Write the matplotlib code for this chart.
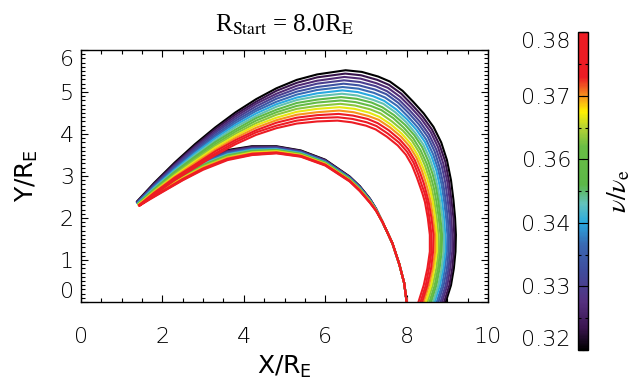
import matplotlib
matplotlib.use('Agg')
import matplotlib.pyplot as plt
from matplotlib.colors import LinearSegmentedColormap, Normalize
from matplotlib.cm import ScalarMappable
from matplotlib.ticker import FixedLocator, MultipleLocator

plt.rcParams['font.family'] = ['DejaVu Sans']
plt.rcParams['font.weight'] = 'light'
plt.rcParams['mathtext.fontset'] = 'custom'
plt.rcParams['mathtext.rm'] = 'DejaVu Sans:light'

# ---------------------------------------------------------------------------
# Data: one ray per frequency nu/nu_e (black -> red).
# Every ray leaves R = 8 R_E, runs up the inner arc to a turning point near
# x ~ 1.4 and comes back along the outer arc.
# ---------------------------------------------------------------------------
nu = [0.320, 0.324, 0.328, 0.332, 0.336, 0.340, 0.344, 0.348,
      0.352, 0.356, 0.360, 0.364, 0.368, 0.372, 0.376, 0.380]

# launch leg, shared by all rays (they overlap there)
inner_low_y = [0.00, 0.45, 0.90, 1.40, 1.90]
inner_low_x = [8.00, 7.94, 7.82, 7.65, 7.41]

# inner arc: y of each ray at these x (going left)
inner_up_x = [7.25, 7.1, 6.85, 6.6, 6.0, 5.4, 4.8, 4.2, 3.6, 3.0, 2.5, 2.0, 1.7]
inner_up_y = [
    [2.22, 2.22, 2.21, 2.21, 2.21, 2.20, 2.20, 2.20, 2.19, 2.19, 2.19, 2.18, 2.18, 2.18, 2.17, 2.17],
    [2.46, 2.45, 2.45, 2.44, 2.43, 2.43, 2.42, 2.41, 2.41, 2.40, 2.39, 2.39, 2.38, 2.37, 2.37, 2.36],
    [2.76, 2.75, 2.74, 2.74, 2.73, 2.72, 2.71, 2.70, 2.70, 2.69, 2.68, 2.67, 2.66, 2.66, 2.65, 2.64],
    [2.99, 2.98, 2.97, 2.97, 2.96, 2.95, 2.94, 2.93, 2.93, 2.92, 2.91, 2.90, 2.89, 2.89, 2.88, 2.87],
    [3.39, 3.38, 3.37, 3.36, 3.35, 3.34, 3.33, 3.32, 3.32, 3.31, 3.30, 3.29, 3.28, 3.27, 3.26, 3.25],
    [3.61, 3.60, 3.59, 3.58, 3.57, 3.56, 3.55, 3.54, 3.53, 3.52, 3.51, 3.50, 3.49, 3.48, 3.47, 3.46],
    [3.71, 3.70, 3.69, 3.68, 3.66, 3.65, 3.64, 3.63, 3.62, 3.61, 3.60, 3.59, 3.57, 3.56, 3.55, 3.54],
    [3.71, 3.70, 3.68, 3.67, 3.65, 3.64, 3.63, 3.61, 3.60, 3.58, 3.57, 3.56, 3.54, 3.53, 3.51, 3.50],
    [3.62, 3.60, 3.59, 3.57, 3.56, 3.54, 3.52, 3.51, 3.49, 3.48, 3.46, 3.44, 3.43, 3.41, 3.40, 3.38],
    [3.39, 3.37, 3.36, 3.34, 3.33, 3.31, 3.29, 3.28, 3.26, 3.25, 3.23, 3.21, 3.20, 3.18, 3.17, 3.15],
    [3.11, 3.10, 3.08, 3.07, 3.05, 3.04, 3.03, 3.01, 3.00, 2.98, 2.97, 2.96, 2.94, 2.93, 2.91, 2.90],
    [2.80, 2.79, 2.78, 2.76, 2.75, 2.74, 2.73, 2.72, 2.70, 2.69, 2.68, 2.67, 2.66, 2.64, 2.63, 2.62],
    [2.61, 2.60, 2.59, 2.58, 2.57, 2.56, 2.55, 2.54, 2.52, 2.51, 2.50, 2.49, 2.48, 2.47, 2.46, 2.45],
]

# turning point of each ray
turn_x = [1.37, 1.37, 1.38, 1.38, 1.39, 1.39, 1.39, 1.40, 1.40, 1.41, 1.41, 1.41, 1.42, 1.42, 1.43, 1.43]
turn_y = [2.39, 2.38, 2.38, 2.37, 2.36, 2.36, 2.35, 2.34, 2.34, 2.33, 2.32, 2.32, 2.31, 2.30, 2.30, 2.29]

# outer arc, rising part: y of each ray at these x
outer_up_x = [1.8, 2.3, 2.8, 3.3, 3.8, 4.3, 4.8, 5.3, 5.8]
outer_up_y = [
    [2.84, 2.82, 2.80, 2.78, 2.77, 2.75, 2.73, 2.71, 2.69, 2.67, 2.65, 2.63, 2.62, 2.60, 2.58, 2.56],
    [3.32, 3.29, 3.26, 3.24, 3.21, 3.18, 3.15, 3.12, 3.10, 3.07, 3.04, 3.01, 2.98, 2.96, 2.93, 2.90],
    [3.76, 3.72, 3.69, 3.65, 3.61, 3.57, 3.54, 3.50, 3.46, 3.42, 3.39, 3.35, 3.31, 3.27, 3.24, 3.20],
    [4.16, 4.12, 4.07, 4.03, 3.98, 3.94, 3.90, 3.85, 3.81, 3.76, 3.72, 3.68, 3.63, 3.59, 3.54, 3.50],
    [4.52, 4.47, 4.42, 4.37, 4.32, 4.27, 4.22, 4.17, 4.11, 4.06, 4.01, 3.96, 3.91, 3.86, 3.81, 3.76],
    [4.83, 4.77, 4.72, 4.66, 4.60, 4.55, 4.49, 4.43, 4.38, 4.32, 4.26, 4.21, 4.15, 4.09, 4.04, 3.98],
    [5.09, 5.03, 4.96, 4.90, 4.84, 4.77, 4.71, 4.65, 4.58, 4.52, 4.46, 4.39, 4.33, 4.27, 4.20, 4.14],
    [5.29, 5.22, 5.15, 5.08, 5.01, 4.94, 4.87, 4.81, 4.74, 4.67, 4.60, 4.53, 4.46, 4.39, 4.32, 4.25],
    [5.42, 5.35, 5.27, 5.20, 5.12, 5.05, 4.97, 4.90, 4.82, 4.75, 4.67, 4.60, 4.52, 4.45, 4.38, 4.30],
]

# outer arc over the top and round the bend: (x, y) of each ray
outer_top_x = [
    [6.50, 6.49, 6.47, 6.46, 6.45, 6.43, 6.42, 6.41, 6.39, 6.38, 6.37, 6.35, 6.34, 6.33, 6.31, 6.30],
    [6.90, 6.88, 6.87, 6.85, 6.83, 6.82, 6.80, 6.78, 6.77, 6.75, 6.73, 6.72, 6.70, 6.68, 6.67, 6.65],
    [7.30, 7.28, 7.26, 7.24, 7.22, 7.20, 7.18, 7.16, 7.14, 7.12, 7.10, 7.08, 7.06, 7.04, 7.02, 7.00],
    [7.59, 7.57, 7.54, 7.52, 7.50, 7.47, 7.45, 7.43, 7.40, 7.38, 7.36, 7.33, 7.31, 7.29, 7.26, 7.24],
    [7.90, 7.87, 7.85, 7.82, 7.80, 7.77, 7.74, 7.72, 7.69, 7.67, 7.64, 7.61, 7.59, 7.56, 7.54, 7.51],
    [8.16, 8.13, 8.11, 8.08, 8.06, 8.03, 8.01, 7.98, 7.96, 7.93, 7.91, 7.88, 7.86, 7.83, 7.81, 7.78],
    [8.42, 8.39, 8.36, 8.33, 8.30, 8.27, 8.24, 8.21, 8.19, 8.16, 8.13, 8.10, 8.07, 8.04, 8.01, 7.98],
    [8.66, 8.62, 8.59, 8.55, 8.52, 8.48, 8.45, 8.41, 8.38, 8.34, 8.31, 8.27, 8.24, 8.20, 8.17, 8.13],
    [8.85, 8.81, 8.77, 8.73, 8.69, 8.65, 8.61, 8.57, 8.53, 8.49, 8.45, 8.41, 8.37, 8.33, 8.29, 8.25],
    [8.99, 8.95, 8.90, 8.86, 8.81, 8.77, 8.73, 8.68, 8.64, 8.59, 8.55, 8.51, 8.46, 8.42, 8.37, 8.33],
    [9.09, 9.04, 9.00, 8.95, 8.90, 8.86, 8.81, 8.76, 8.72, 8.67, 8.62, 8.58, 8.53, 8.48, 8.44, 8.39],
    [9.15, 9.10, 9.06, 9.01, 8.96, 8.92, 8.87, 8.82, 8.78, 8.73, 8.68, 8.64, 8.59, 8.54, 8.50, 8.45],
]
outer_top_y = [
    [5.52, 5.44, 5.36, 5.28, 5.20, 5.12, 5.04, 4.96, 4.88, 4.80, 4.72, 4.64, 4.56, 4.48, 4.40, 4.32],
    [5.48, 5.40, 5.32, 5.24, 5.16, 5.08, 5.00, 4.92, 4.84, 4.76, 4.68, 4.60, 4.52, 4.44, 4.36, 4.28],
    [5.37, 5.29, 5.21, 5.14, 5.06, 4.98, 4.90, 4.82, 4.75, 4.67, 4.59, 4.51, 4.43, 4.36, 4.28, 4.20],
    [5.25, 5.17, 5.10, 5.02, 4.95, 4.87, 4.79, 4.72, 4.64, 4.57, 4.49, 4.41, 4.34, 4.26, 4.19, 4.11],
    [5.03, 4.96, 4.88, 4.81, 4.74, 4.67, 4.59, 4.52, 4.45, 4.38, 4.30, 4.23, 4.16, 4.09, 4.01, 3.94],
    [4.77, 4.70, 4.63, 4.56, 4.49, 4.42, 4.35, 4.29, 4.22, 4.15, 4.08, 4.01, 3.94, 3.87, 3.80, 3.73],
    [4.49, 4.42, 4.36, 4.29, 4.23, 4.16, 4.10, 4.03, 3.97, 3.90, 3.84, 3.77, 3.71, 3.64, 3.58, 3.51],
    [4.17, 4.11, 4.05, 3.99, 3.93, 3.87, 3.81, 3.75, 3.69, 3.62, 3.56, 3.50, 3.44, 3.38, 3.32, 3.26],
    [3.80, 3.74, 3.69, 3.63, 3.58, 3.52, 3.47, 3.41, 3.36, 3.30, 3.25, 3.19, 3.14, 3.08, 3.03, 2.97],
    [3.38, 3.34, 3.30, 3.25, 3.21, 3.17, 3.13, 3.09, 3.04, 3.00, 2.96, 2.92, 2.88, 2.83, 2.79, 2.75],
    [2.90, 2.88, 2.86, 2.84, 2.81, 2.79, 2.77, 2.75, 2.73, 2.71, 2.69, 2.67, 2.64, 2.62, 2.60, 2.58],
    [2.43, 2.43, 2.42, 2.42, 2.42, 2.41, 2.41, 2.41, 2.40, 2.40, 2.40, 2.39, 2.39, 2.39, 2.38, 2.38],
]

# outer arc, way down to y = 0: x of each ray at these y
outer_low_y = [2.0, 1.6, 1.2, 0.8, 0.4, 0.0]
outer_low_x = [
    [9.19, 9.15, 9.10, 9.06, 9.01, 8.97, 8.92, 8.88, 8.83, 8.79, 8.74, 8.70, 8.65, 8.61, 8.56, 8.52],
    [9.21, 9.17, 9.12, 9.08, 9.04, 9.00, 8.95, 8.91, 8.87, 8.83, 8.78, 8.74, 8.70, 8.66, 8.61, 8.57],
    [9.20, 9.16, 9.12, 9.07, 9.03, 8.99, 8.95, 8.91, 8.86, 8.82, 8.78, 8.74, 8.70, 8.65, 8.61, 8.57],
    [9.16, 9.12, 9.07, 9.03, 8.99, 8.94, 8.90, 8.86, 8.81, 8.77, 8.73, 8.68, 8.64, 8.60, 8.55, 8.51],
    [9.09, 9.05, 9.00, 8.96, 8.91, 8.87, 8.82, 8.78, 8.73, 8.69, 8.64, 8.60, 8.55, 8.51, 8.47, 8.42],
    [8.96, 8.92, 8.87, 8.83, 8.78, 8.74, 8.69, 8.65, 8.60, 8.56, 8.51, 8.47, 8.42, 8.38, 8.34, 8.29],
]

cbar_ticks = [0.32, 0.332, 0.344, 0.356, 0.368, 0.38]
cbar_labels = ['0.32', '0.33', '0.34', '0.36', '0.37', '0.38']

# IDL-like rainbow colour table
cmap_pos = [0.00, 0.07, 0.15, 0.25, 0.33, 0.40, 0.46, 0.52, 0.64, 0.70, 0.75, 0.80, 0.86, 1.00]
cmap_col = ['#000000', '#3b1650', '#55307f', '#3f4d9e', '#3a68b2', '#29a9e0', '#63c2bd', '#5cb848',
            '#6abd45', '#b5d334', '#fff200', '#f7941d', '#ed1c24', '#ed1c24']
cmap = LinearSegmentedColormap.from_list('idl_rainbow', list(zip(cmap_pos, cmap_col)))
norm = Normalize(vmin=0.32, vmax=0.38)

# ---------------------------------------------------------------------------
fig = plt.figure(figsize=(6.33, 3.87), dpi=100)
ax = fig.add_axes([0.128, 0.2196, 0.643, 0.651])
cax = fig.add_axes([0.913, 0.0956, 0.0158, 0.821])

for k, v in enumerate(nu):
    xs = (inner_low_x + inner_up_x + [turn_x[k]] + outer_up_x
          + [row[k] for row in outer_top_x] + [row[k] for row in outer_low_x])
    ys = (inner_low_y + [row[k] for row in inner_up_y] + [turn_y[k]]
          + [row[k] for row in outer_up_y] + [row[k] for row in outer_top_y] + outer_low_y)
    ax.plot(xs, ys, color=cmap(norm(v)), lw=1.5, solid_joinstyle='round')

ax.set_xlim(0, 10)
ax.set_ylim(0, 6)
ax.xaxis.set_major_locator(FixedLocator([0, 2, 4, 6, 8, 10]))
ax.xaxis.set_minor_locator(MultipleLocator(0.5))
ax.yaxis.set_major_locator(FixedLocator([0, 1, 2, 3, 4, 5, 6]))
ax.yaxis.set_minor_locator(MultipleLocator(0.1))
ax.tick_params(which='both', direction='in', top=True, right=True, width=0.8, labelsize=16)
ax.tick_params(which='major', length=5)
ax.tick_params(which='minor', length=3)
ax.tick_params(axis='x', pad=18)
ax.tick_params(axis='y', pad=5)
for s in ax.spines.values():
    s.set_linewidth(1.0)
ylabs = ax.get_yticklabels()
ylabs[0].set_va('bottom')
ylabs[-1].set_va('top')

ax.set_xlabel(r'X/R$_{\mathregular{E}}$', fontsize=18, labelpad=5)
ax.set_ylabel(r'Y/R$_{\mathregular{E}}$', fontsize=18, labelpad=14)
ax.set_title(r'R$_{\rm Start}$ = 8.0R$_{\rm E}$', fontsize=18, family='Liberation Serif',
             math_fontfamily='stix', pad=13)

cb = fig.colorbar(ScalarMappable(norm=norm, cmap=cmap), cax=cax)
cb.set_ticks(cbar_ticks)
cb.set_ticklabels(cbar_labels)
cb.outline.set_linewidth(1.0)
cax.yaxis.set_ticks_position('both')
cax.yaxis.set_minor_locator(FixedLocator([0.326, 0.338, 0.350, 0.362, 0.374]))
cax.tick_params(which='both', direction='in', left=True, right=True,
                labelleft=True, labelright=False, labelsize=16, pad=5, width=0.8)
cax.tick_params(which='major', length=4)
cax.tick_params(which='minor', length=2.5)
clabs = cax.get_yticklabels()
clabs[0].set_va('bottom')
clabs[-1].set_va('top')
cax.yaxis.set_label_position('right')
cax.set_ylabel(r'$\nu/\nu_{\rm e}$', fontsize=20, math_fontfamily='stix', labelpad=12)

fig.savefig('out.png', dpi=100)
